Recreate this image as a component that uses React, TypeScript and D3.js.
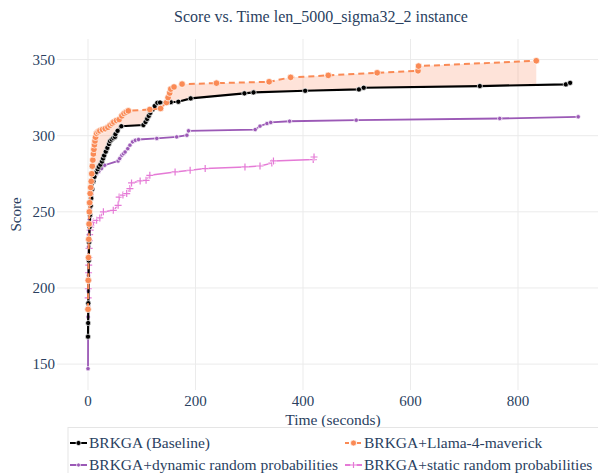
import React from "react";
import * as d3 from "d3";

// Best score found over time for each BRKGA variant
const baselineTime = [0, 0.3, 0.6, 1, 1.5, 2, 3, 4, 5, 6, 8, 10, 12, 15, 18, 20, 23, 26, 28, 30, 33, 36, 39, 41, 44, 47, 50, 51, 55, 62, 103, 107, 110, 113, 116, 120, 124, 129, 134, 154, 168, 191, 291, 308, 404, 504, 513, 729, 889, 897];
const baselineScore = [168, 177, 190, 205, 218, 230, 240, 248, 254, 259, 265, 270, 273, 276, 278, 279.5, 281, 283, 285, 287, 289.5, 292, 294.5, 296.4, 297.5, 298.5, 299.2, 301, 303.2, 306.2, 307, 309, 311, 313, 315, 317.2, 319.5, 321.6, 321.8, 322, 322.3, 324.5, 327.8, 328.4, 329.5, 330.4, 331.5, 332.6, 333.7, 334.7];

const llamaTime = [0, 0.5, 1, 1.5, 2, 2.5, 3, 4, 5, 6, 7, 8, 9, 10, 11, 12, 13, 14, 16, 19, 22, 27, 32, 37, 41, 45, 48, 53, 58, 63, 67, 71, 75, 115, 135, 146, 149, 152, 154, 160, 175, 239, 337, 377, 447, 538, 614, 615, 834];
const llamaScore = [186, 205, 220, 232, 242, 250, 256, 262, 266, 270, 275, 280, 284, 288, 291, 294, 296.5, 299, 301.5, 302.5, 303.2, 304, 304.6, 305.5, 306.9, 308, 309, 310, 310.6, 313, 314.6, 315.5, 316.3, 317.2, 317.9, 321.8, 325, 328, 330.6, 332, 333.9, 334.5, 335.4, 338.3, 339.6, 341.3, 342.6, 345.7, 349.2];

const dynamicTime = [0, 0.2, 0.4, 0.6, 0.8, 1, 1.3, 1.6, 2, 2.5, 3, 4, 5, 6, 7, 8.5, 10, 13, 16, 20, 25, 31, 56, 59, 63, 66, 69, 74, 78, 83, 88, 94, 128, 165, 184, 187, 311, 320, 333, 340, 375, 499, 766, 912];
const dynamicScore = [147, 181, 188, 198, 208, 218, 227, 235, 241, 245, 249, 252, 256.5, 259, 261.5, 265, 270.7, 273, 275, 276.5, 278.4, 280.6, 283.4, 285, 287.2, 288.2, 289.3, 291.5, 293.8, 296, 297, 297.5, 298.2, 299.2, 300.3, 303.2, 304, 306.3, 308, 308.7, 309.5, 310.2, 311.3, 312.4];

const staticTime = [0.3, 0.5, 0.8, 1, 1.3, 1.6, 2, 2.5, 3, 4, 5, 6, 8, 10, 16, 22, 28.6, 47, 56, 58, 65, 72, 78, 81, 97, 108, 115, 162, 190, 218, 292, 320, 342, 345, 419, 420.5];
const staticScore = [193.5, 199.5, 205, 210, 215, 220, 226, 231, 235, 238, 240, 241.5, 242.5, 243.3, 244.4, 246, 250, 251, 254.3, 259.7, 261, 262, 265.3, 269, 270.3, 270.7, 274, 276.2, 277.3, 278.4, 279.5, 280.1, 282, 283.4, 284.3, 286];

const xTicks = [0, 200, 400, 600, 800];
const yTicks = [150, 200, 250, 300, 350];

const seriesNames = [
  "BRKGA (Baseline)",
  "BRKGA+Llama-4-maverick",
  "BRKGA+dynamic random probabilities",
  "BRKGA+static random probabilities",
];

type Pt = [number, number];
const zip = (t: number[], s: number[]): Pt[] => t.map((v, i) => [v, s[i]]);

const W = 598;
const H = 473;
const plot = { left: 57, right: 609, top: 39, bottom: 390 };
const FONT = "'Liberation Serif', 'Times New Roman', serif";
const TEXT = "#2a3f5f";

export default function App() {
  const x = d3.scaleLinear().domain([-57.7, 969.3]).range([plot.left, plot.right]);
  const y = d3.scaleLinear().domain([133, 363.5]).range([plot.bottom, plot.top]);
  const line = d3.line<Pt>().x((d) => x(d[0])).y((d) => y(d[1]));

  const baseline = zip(baselineTime, baselineScore);
  const llama = zip(llamaTime, llamaScore);
  const dynamic = zip(dynamicTime, dynamicScore);
  const stat = zip(staticTime, staticScore);

  // Shaded gain region: Llama curve forward, then baseline back, limited to the Llama time span
  const tEnd = llamaTime[llamaTime.length - 1];
  const baseAt = (t: number) => {
    const i = d3.bisectRight(baselineTime, t);
    if (i <= 0) return baselineScore[0];
    if (i >= baselineTime.length) return baselineScore[baselineScore.length - 1];
    const t0 = baselineTime[i - 1], t1 = baselineTime[i];
    const s0 = baselineScore[i - 1], s1 = baselineScore[i];
    return s0 + ((t - t0) / (t1 - t0)) * (s1 - s0);
  };
  const fillPts: Pt[] = [
    ...llama,
    [tEnd, baseAt(tEnd)],
    ...baseline.filter((d) => d[0] < tEnd).reverse(),
  ];

  const colors = ["#000000", "#fa8a55", "#9b59b6", "#e57ad6"];

  const dot = (p: Pt, r: number, c: string, k: string) => (
    <circle key={k} cx={x(p[0])} cy={y(p[1])} r={r} fill={c} stroke="#ffffff" strokeWidth={0.7} />
  );
  const cross = (cx: number, cy: number, s: number, c: string, k: string) => (
    <g key={k}>
      <path d={`M${cx - s},${cy}H${cx + s}M${cx},${cy - s}V${cy + s}`} stroke="#ffffff" strokeWidth={2.6} />
      <path d={`M${cx - s},${cy}H${cx + s}M${cx},${cy - s}V${cy + s}`} stroke={c} strokeWidth={1.2} />
    </g>
  );

  const legendItems = [
    { name: seriesNames[0], c: colors[0], dash: undefined, mk: "dot", r: 2.5, x0: 70, yy: 443 },
    { name: seriesNames[1], c: colors[1], dash: "4,2", mk: "dot", r: 3, x0: 345, yy: 443 },
    { name: seriesNames[2], c: colors[2], dash: undefined, mk: "dot", r: 2, x0: 70, yy: 465 },
    { name: seriesNames[3], c: colors[3], dash: undefined, mk: "cross", r: 3, x0: 345, yy: 465 },
  ];

  return (
    <svg width={W} height={H} style={{ position: "absolute", left: 0, top: 0, background: "#ffffff" }} fontFamily={FONT}>
      <defs>
        <clipPath id="plotClip">
          <rect x={plot.left} y={plot.top} width={plot.right - plot.left} height={plot.bottom - plot.top} />
        </clipPath>
      </defs>

      {/* grid */}
      {xTicks.map((t) => (
        <line key={"gx" + t} x1={x(t)} x2={x(t)} y1={plot.top} y2={plot.bottom} stroke="#ebebeb" strokeWidth={1} />
      ))}
      {yTicks.map((t) => (
        <line key={"gy" + t} x1={plot.left} x2={plot.right} y1={y(t)} y2={y(t)} stroke="#ebebeb" strokeWidth={1} />
      ))}

      <g clipPath="url(#plotClip)">
        <path d={line(fillPts) ?? ""} fill="rgba(250,128,80,0.22)" stroke="none" />

        <path d={line(stat) ?? ""} fill="none" stroke={colors[3]} strokeWidth={1.5} />
        {stat.map((p, i) => cross(x(p[0]), y(p[1]), 3.5, colors[3], "s" + i))}

        <path d={line(dynamic) ?? ""} fill="none" stroke={colors[2]} strokeWidth={1.8} />
        {dynamic.map((p, i) => dot(p, 2.2, colors[2], "d" + i))}

        <path d={line(baseline) ?? ""} fill="none" stroke={colors[0]} strokeWidth={2.2} />
        {baseline.map((p, i) => dot(p, 2.6, colors[0], "b" + i))}

        <path d={line(llama) ?? ""} fill="none" stroke={colors[1]} strokeWidth={2} strokeDasharray="6,4" />
        {llama.map((p, i) => dot(p, 3.3, colors[1], "l" + i))}
      </g>

      {/* tick labels */}
      {xTicks.map((t) => (
        <text key={"tx" + t} x={x(t)} y={406} textAnchor="middle" fontSize={15} fill={TEXT}>
          {t}
        </text>
      ))}
      {yTicks.map((t) => (
        <text key={"ty" + t} x={55} y={y(t) + 5} textAnchor="end" fontSize={15} fill={TEXT}>
          {t}
        </text>
      ))}

      {/* titles */}
      <text x={321} y={22} textAnchor="middle" fontSize={16} fill={TEXT}>
        Score vs. Time len_5000_sigma32_2 instance
      </text>
      <text x={333} y={425} textAnchor="middle" fontSize={15.5} fill={TEXT}>
        Time (seconds)
      </text>
      <text transform={`translate(21,${(plot.top + plot.bottom) / 2}) rotate(-90)`} textAnchor="middle" fontSize={15} fill={TEXT}>
        Score
      </text>

      {/* legend */}
      <rect x={68} y={427.5} width={560} height={60} fill="none" stroke="#e5e5e5" strokeWidth={1} />
      {legendItems.map((it) => (
        <g key={it.name}>
          <line x1={it.x0} x2={it.x0 + 17} y1={it.yy} y2={it.yy} stroke={it.c} strokeWidth={2} strokeDasharray={it.dash} />
          {it.mk === "dot" ? (
            <circle cx={it.x0 + 8.5} cy={it.yy} r={it.r} fill={it.c} stroke="#ffffff" strokeWidth={0.7} />
          ) : (
            cross(it.x0 + 8.5, it.yy, it.r, it.c, "lc")
          )}
          <text x={it.x0 + 19} y={it.yy + 5} fontSize={15.5} fill={TEXT}>
            {it.name}
          </text>
        </g>
      ))}
    </svg>
  );
}
